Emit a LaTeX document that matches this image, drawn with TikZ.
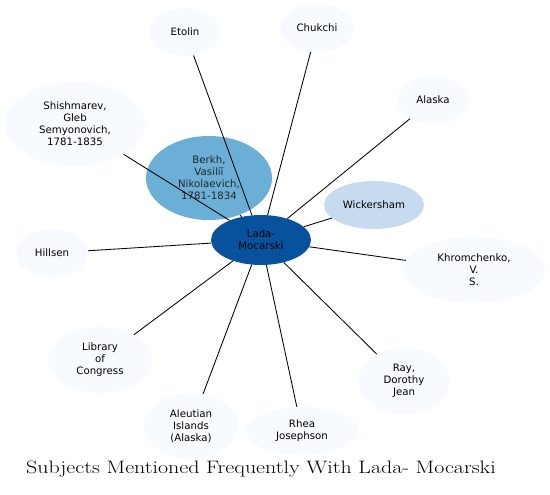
\documentclass[tikz,border=0pt]{standalone}
\usepackage{fontspec}
\setmainfont{Latin Modern Roman}
\newfontfamily\nodefont{DejaVu Sans}
\usetikzlibrary{shapes.geometric}
\definecolor{bdark}{RGB}{8,81,156}
\definecolor{bmid}{RGB}{107,174,214}
\definecolor{blight}{RGB}{198,219,239}
\definecolor{bpale}{RGB}{247,251,255}

\begin{document}
\begin{tikzpicture}[
  x=1pt,y=-1pt,
  nd/.style={ellipse,draw=none,align=center,inner sep=0pt,
             font=\nodefont\fontsize{10.2}{11.9}\selectfont,text=black},
  pale/.style={nd,fill=bpale},
  ln/.style={line width=0.85pt,black},
  ]
  \useasboundingbox (0,0) rectangle (550,495);
  % hub and neighbours
  \node[nd,fill=bdark,minimum width=100,minimum height=50] (lm) at (261,240) {Lada-\\Mocarski};
  \node[nd,fill=bmid,minimum width=126,minimum height=84,text=black!85] (berkh) at (209,178) {Berkh,\\Vasiliĭ\\Nikolaevich,\\1781-1834};
  \node[nd,fill=blight,minimum width=100,minimum height=48] (wick) at (374,205) {Wickersham};
  \node[pale,minimum width=72,minimum height=48] (etolin) at (185,32) {Etolin};
  \node[pale,minimum width=74,minimum height=48] (chukchi) at (317,28) {Chukchi};
  \node[pale,minimum width=72,minimum height=48] (alaska) at (433,100) {Alaska};
  \node[pale,minimum width=140,minimum height=84] (shish) at (75,124) {Shishmarev,\\Gleb\\Semyonovich,\\1781-1835};
  \node[pale,minimum width=72,minimum height=48] (hill) at (52,253) {Hillsen};
  \node[pale,minimum width=142,minimum height=66] (khrom) at (474,270) {Khromchenko,\\V.\\S.};
  \node[pale,minimum width=104,minimum height=66] (loc) at (100,360) {Library\\of\\Congress};
  \node[pale,minimum width=94,minimum height=66] (aleut) at (191,426) {Aleutian\\Islands\\(Alaska)};
  \node[pale,minimum width=112,minimum height=48] (rhea) at (302,431) {Rhea\\Josephson};
  \node[pale,minimum width=92,minimum height=66] (ray) at (404,381) {Ray,\\Dorothy\\Jean};
  % spokes
  \foreach \n in {berkh,wick,etolin,chukchi,alaska,shish,hill,khrom,loc,aleut,rhea,ray}
    \draw[ln] (lm) -- (\n);
  \node[font=\fontsize{18}{21}\selectfont] (title) at (261,469) {\scalebox{1.22}[1]{Subjects Mentioned Frequently With Lada- Mocarski}};
\end{tikzpicture}
\end{document}
